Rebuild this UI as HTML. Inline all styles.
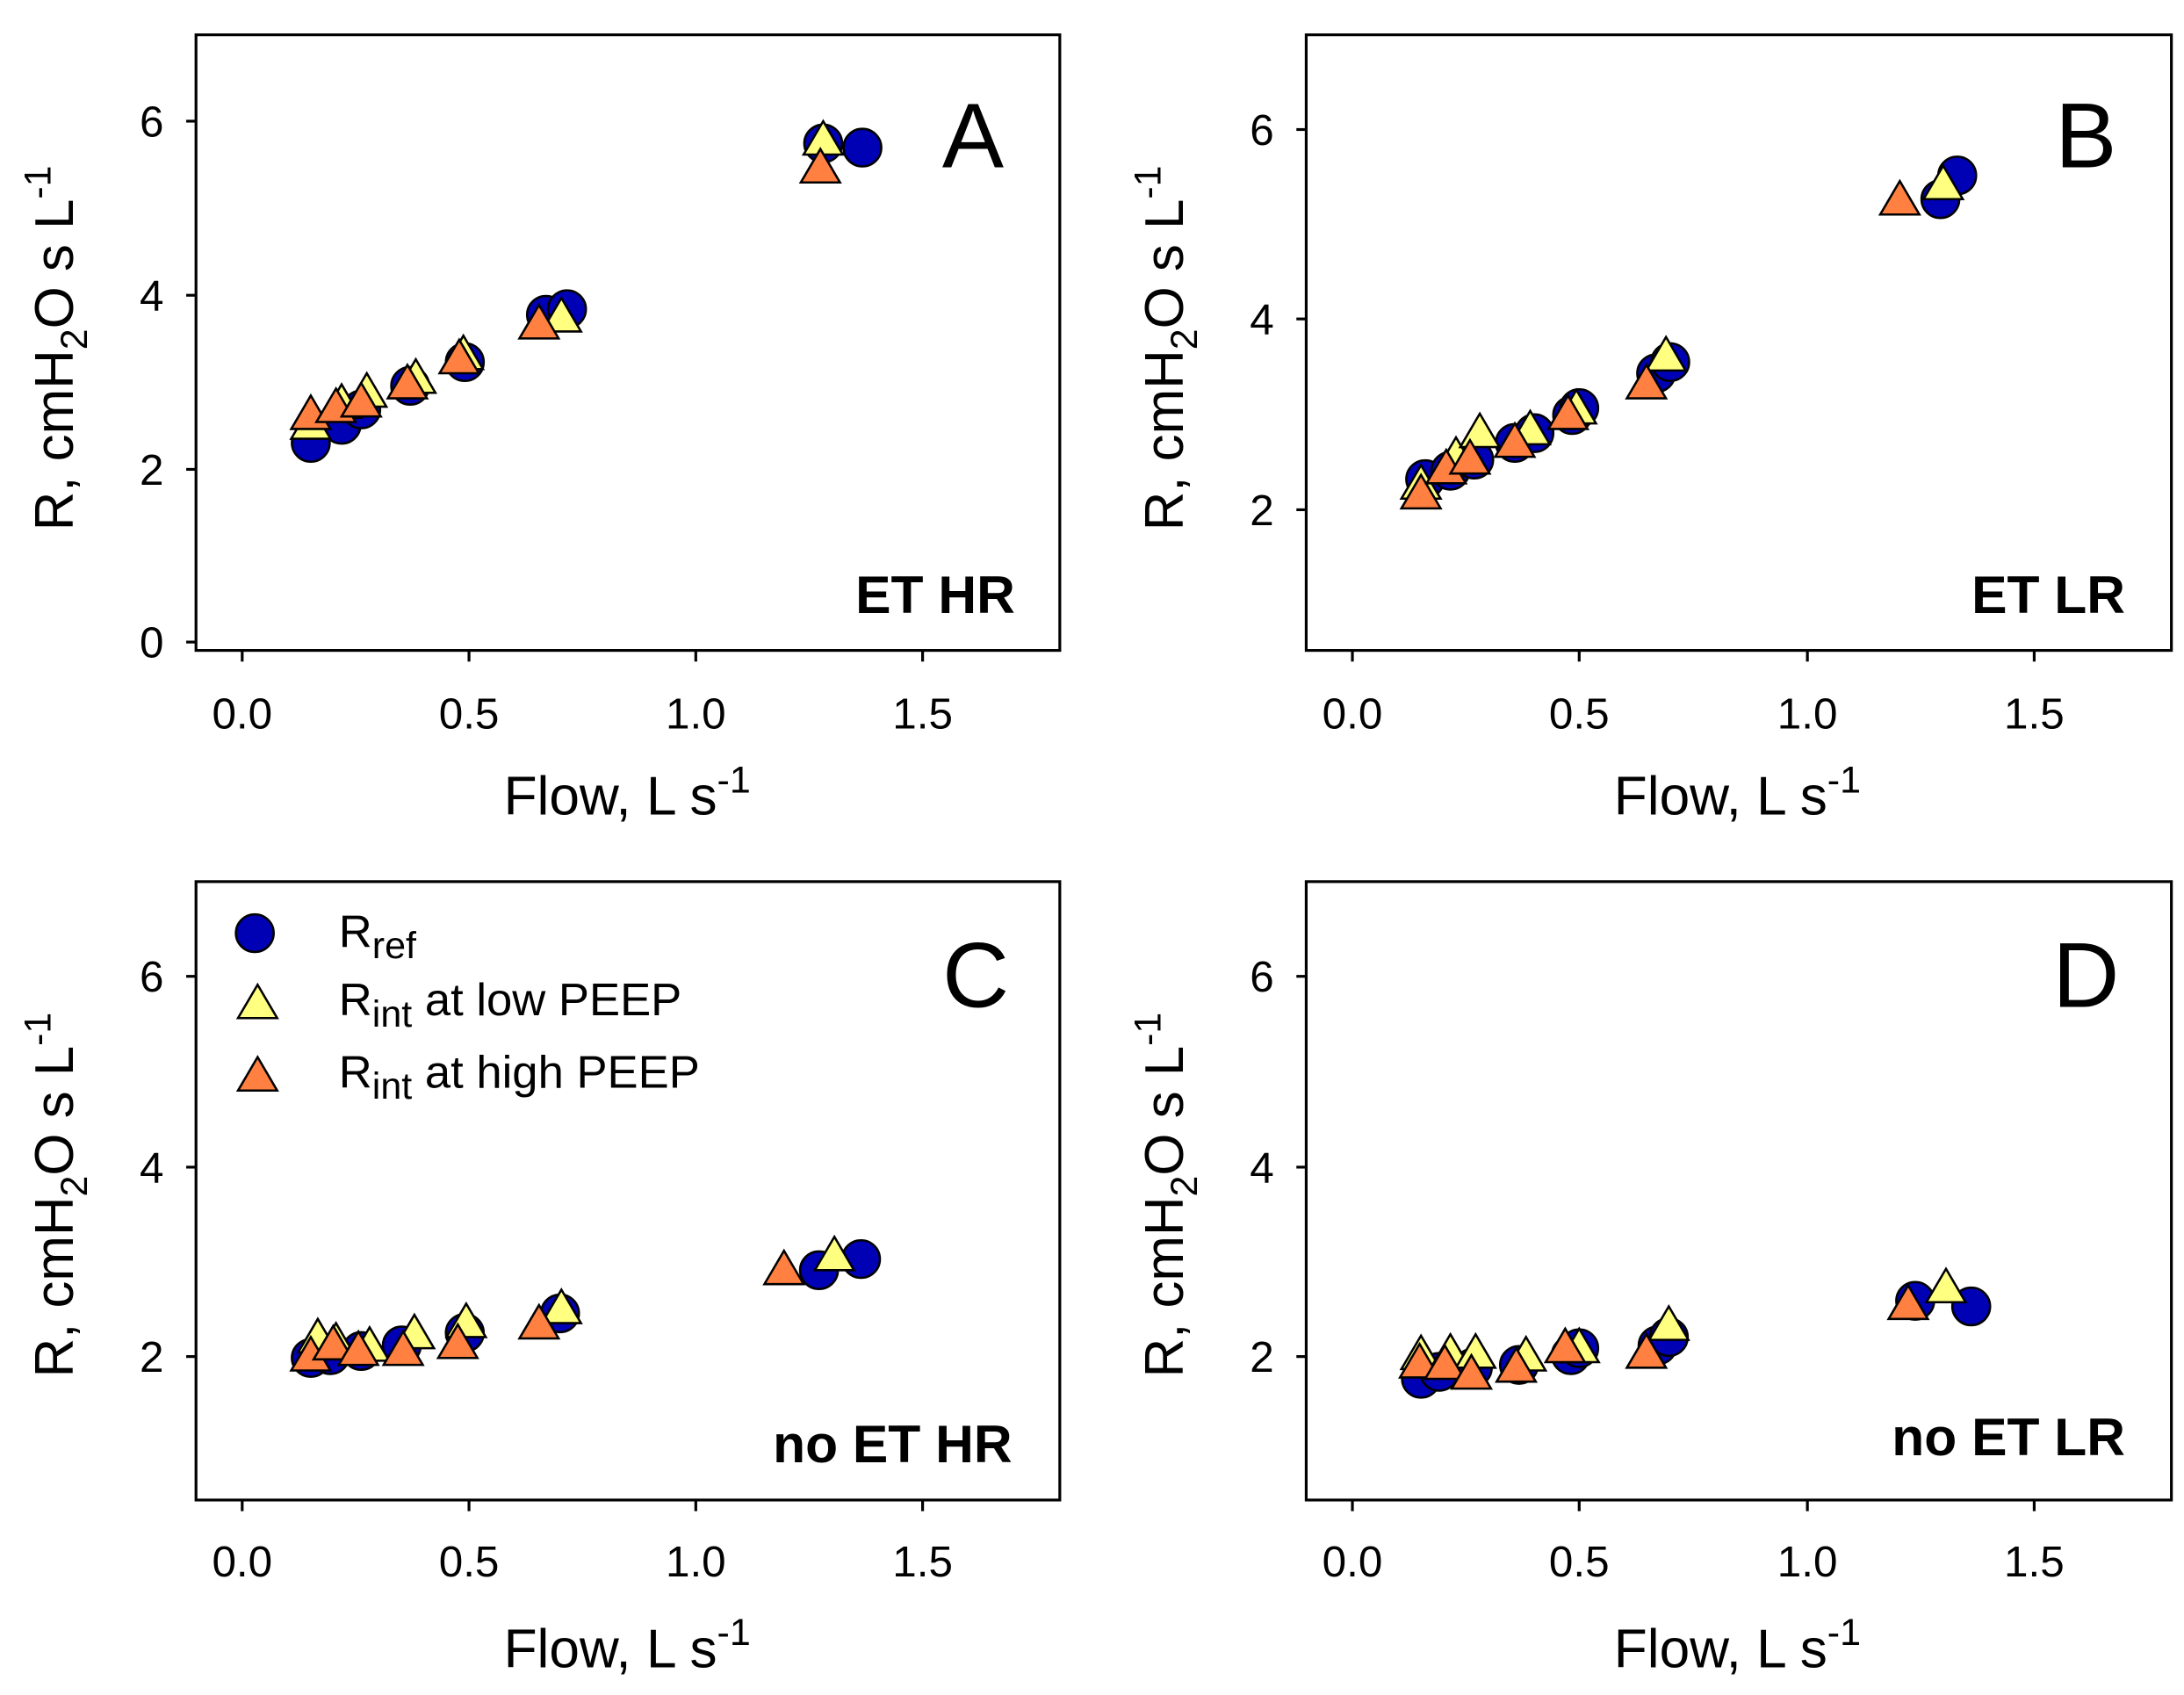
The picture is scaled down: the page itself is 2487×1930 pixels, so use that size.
<!DOCTYPE html>
<html><head><meta charset="utf-8"><style>
html,body{margin:0;padding:0;background:#fff;}
svg{display:block;}
text{font-family:"Liberation Sans",Arial,sans-serif;fill:#000;}
.t{font-size:31px;}
.ax{font-size:39px;}
.c{fill:#0000b4;stroke:#000;stroke-width:1.6;}
.y{fill:#ffff80;stroke:#000;stroke-width:1.6;}
.o{fill:#ff8040;stroke:#000;stroke-width:1.6;}
.f{fill:none;stroke:#000;stroke-width:2;}
</style></head><body>
<svg width="2487" height="1930" viewBox="0 0 1560 1217" preserveAspectRatio="none" xmlns="http://www.w3.org/2000/svg">
<defs>
<path id="tri" d="M0,-14 L-14,10 L14,10 Z"/>
</defs>

<!-- Panel A -->
<rect class="f" x="140" y="25" width="617" height="442"/>
<g stroke="#000" stroke-width="2">
<line x1="140" y1="461" x2="133" y2="461"/><line x1="140" y1="337" x2="133" y2="337"/><line x1="140" y1="212" x2="133" y2="212"/><line x1="140" y1="87" x2="133" y2="87"/>
<line x1="173" y1="467" x2="173" y2="475"/><line x1="335" y1="467" x2="335" y2="475"/><line x1="497" y1="467" x2="497" y2="475"/><line x1="659" y1="467" x2="659" y2="475"/>
</g>
<g class="t" text-anchor="end"><text x="117" y="472">0</text><text x="117" y="348">2</text><text x="117" y="223">4</text><text x="117" y="98">6</text></g>
<g class="t" text-anchor="middle"><text x="173" y="523">0.0</text><text x="335" y="523">0.5</text><text x="497" y="523">1.0</text><text x="659" y="523">1.5</text></g>
<text class="ax" x="448" y="585" text-anchor="middle">Flow, L s<tspan dy="-16" font-size="27">-1</tspan></text>
<text class="ax" transform="translate(52,250) rotate(-90)" text-anchor="middle">R, cmH<tspan dy="10" font-size="27">2</tspan><tspan dy="-10">O s L</tspan><tspan dy="-16" font-size="27">-1</tspan></text>
<text x="695" y="120" font-size="66" text-anchor="middle">A</text>
<text x="725" y="440" font-size="38" font-weight="bold" text-anchor="end">ET HR</text>
<g class="c"><circle cx="222" cy="318" r="13.5"/><circle cx="244" cy="305" r="13.5"/><circle cx="258" cy="294" r="13.5"/><circle cx="293" cy="277" r="13.5"/><circle cx="332" cy="260" r="13.5"/><circle cx="390" cy="226" r="13.5"/><circle cx="405" cy="222" r="13.5"/><circle cx="588" cy="103" r="13.5"/><circle cx="616" cy="106" r="13.5"/></g>
<g class="y"><use href="#tri" x="222" y="305"/><use href="#tri" x="244" y="290"/><use href="#tri" x="262" y="282"/><use href="#tri" x="297" y="272"/><use href="#tri" x="331" y="255"/><use href="#tri" x="401" y="228"/><use href="#tri" x="588" y="101"/></g>
<g class="o"><use href="#tri" x="222" y="298"/><use href="#tri" x="240" y="293"/><use href="#tri" x="258" y="289"/><use href="#tri" x="291" y="276"/><use href="#tri" x="328" y="258"/><use href="#tri" x="385" y="233"/><use href="#tri" x="586" y="121"/></g>

<!-- Panel B -->
<rect class="f" x="933" y="25" width="618" height="442"/>
<g stroke="#000" stroke-width="2">
<line x1="933" y1="366" x2="926" y2="366"/><line x1="933" y1="229" x2="926" y2="229"/><line x1="933" y1="93" x2="926" y2="93"/>
<line x1="966" y1="467" x2="966" y2="475"/><line x1="1128" y1="467" x2="1128" y2="475"/><line x1="1291" y1="467" x2="1291" y2="475"/><line x1="1453" y1="467" x2="1453" y2="475"/>
</g>
<g class="t" text-anchor="end"><text x="910" y="377">2</text><text x="910" y="240">4</text><text x="910" y="104">6</text></g>
<g class="t" text-anchor="middle"><text x="966" y="523">0.0</text><text x="1128" y="523">0.5</text><text x="1291" y="523">1.0</text><text x="1453" y="523">1.5</text></g>
<text class="ax" x="1241" y="585" text-anchor="middle">Flow, L s<tspan dy="-16" font-size="27">-1</tspan></text>
<text class="ax" transform="translate(845,250) rotate(-90)" text-anchor="middle">R, cmH<tspan dy="10" font-size="27">2</tspan><tspan dy="-10">O s L</tspan><tspan dy="-16" font-size="27">-1</tspan></text>
<text x="1490" y="120" font-size="66" text-anchor="middle">B</text>
<text x="1518" y="440" font-size="38" font-weight="bold" text-anchor="end">ET LR</text>
<g class="c"><circle cx="1018" cy="344" r="13.5"/><circle cx="1036" cy="338" r="13.5"/><circle cx="1053" cy="330" r="13.5"/><circle cx="1082" cy="318" r="13.5"/><circle cx="1096" cy="311" r="13.5"/><circle cx="1123" cy="298" r="13.5"/><circle cx="1128" cy="293" r="13.5"/><circle cx="1183" cy="268" r="13.5"/><circle cx="1193" cy="260" r="13.5"/><circle cx="1386" cy="143" r="13.5"/><circle cx="1398" cy="126" r="13.5"/></g>
<g class="y"><use href="#tri" x="1015" y="348"/><use href="#tri" x="1040" y="328"/><use href="#tri" x="1057" y="311"/><use href="#tri" x="1093" y="309"/><use href="#tri" x="1126" y="294"/><use href="#tri" x="1190" y="256"/><use href="#tri" x="1388" y="133"/></g>
<g class="o"><use href="#tri" x="1015" y="355"/><use href="#tri" x="1033" y="337"/><use href="#tri" x="1050" y="330"/><use href="#tri" x="1082" y="318"/><use href="#tri" x="1120" y="298"/><use href="#tri" x="1176" y="276"/><use href="#tri" x="1357" y="144"/></g>

<!-- Panel C -->
<rect class="f" x="140" y="633" width="617" height="444"/>
<g stroke="#000" stroke-width="2">
<line x1="140" y1="974" x2="133" y2="974"/><line x1="140" y1="838" x2="133" y2="838"/><line x1="140" y1="701" x2="133" y2="701"/>
<line x1="173" y1="1077" x2="173" y2="1085"/><line x1="335" y1="1077" x2="335" y2="1085"/><line x1="497" y1="1077" x2="497" y2="1085"/><line x1="659" y1="1077" x2="659" y2="1085"/>
</g>
<g class="t" text-anchor="end"><text x="117" y="985">2</text><text x="117" y="849">4</text><text x="117" y="712">6</text></g>
<g class="t" text-anchor="middle"><text x="173" y="1132">0.0</text><text x="335" y="1132">0.5</text><text x="497" y="1132">1.0</text><text x="659" y="1132">1.5</text></g>
<text class="ax" x="448" y="1197" text-anchor="middle">Flow, L s<tspan dy="-16" font-size="27">-1</tspan></text>
<text class="ax" transform="translate(52,858) rotate(-90)" text-anchor="middle">R, cmH<tspan dy="10" font-size="27">2</tspan><tspan dy="-10">O s L</tspan><tspan dy="-16" font-size="27">-1</tspan></text>
<text x="697" y="723" font-size="66" text-anchor="middle">C</text>
<text x="723" y="1050" font-size="38" font-weight="bold" text-anchor="end">no ET HR</text>
<circle class="c" cx="182" cy="670" r="13.5"/>
<use class="y" href="#tri" x="184" y="721"/>
<use class="o" href="#tri" x="184" y="773"/>
<text x="242" y="680" font-size="33">R<tspan dy="8" font-size="27">ref</tspan></text>
<text x="242" y="729" font-size="33">R<tspan dy="8" font-size="27">int</tspan><tspan dy="-8"> at low PEEP</tspan></text>
<text x="242" y="781" font-size="33">R<tspan dy="8" font-size="27">int</tspan><tspan dy="-8"> at high PEEP</tspan></text>
<g class="c"><circle cx="222" cy="975" r="13.5"/><circle cx="236" cy="973" r="13.5"/><circle cx="258" cy="970" r="13.5"/><circle cx="287" cy="966" r="13.5"/><circle cx="332" cy="957" r="13.5"/><circle cx="400" cy="943" r="13.5"/><circle cx="585" cy="912" r="13.5"/><circle cx="615" cy="904" r="13.5"/></g>
<g class="y"><use href="#tri" x="227" y="961"/><use href="#tri" x="240" y="964"/><use href="#tri" x="264" y="967"/><use href="#tri" x="296" y="958"/><use href="#tri" x="333" y="950"/><use href="#tri" x="401" y="940"/><use href="#tri" x="596" y="902"/></g>
<g class="o"><use href="#tri" x="222" y="974"/><use href="#tri" x="238" y="966"/><use href="#tri" x="256" y="970"/><use href="#tri" x="288" y="970"/><use href="#tri" x="327" y="965"/><use href="#tri" x="385" y="951"/><use href="#tri" x="560" y="912"/></g>

<!-- Panel D -->
<rect class="f" x="933" y="633" width="618" height="444"/>
<g stroke="#000" stroke-width="2">
<line x1="933" y1="974" x2="926" y2="974"/><line x1="933" y1="838" x2="926" y2="838"/><line x1="933" y1="701" x2="926" y2="701"/>
<line x1="966" y1="1077" x2="966" y2="1085"/><line x1="1128" y1="1077" x2="1128" y2="1085"/><line x1="1291" y1="1077" x2="1291" y2="1085"/><line x1="1453" y1="1077" x2="1453" y2="1085"/>
</g>
<g class="t" text-anchor="end"><text x="910" y="985">2</text><text x="910" y="849">4</text><text x="910" y="712">6</text></g>
<g class="t" text-anchor="middle"><text x="966" y="1132">0.0</text><text x="1128" y="1132">0.5</text><text x="1291" y="1132">1.0</text><text x="1453" y="1132">1.5</text></g>
<text class="ax" x="1241" y="1197" text-anchor="middle">Flow, L s<tspan dy="-16" font-size="27">-1</tspan></text>
<text class="ax" transform="translate(845,858) rotate(-90)" text-anchor="middle">R, cmH<tspan dy="10" font-size="27">2</tspan><tspan dy="-10">O s L</tspan><tspan dy="-16" font-size="27">-1</tspan></text>
<text x="1490" y="723" font-size="66" text-anchor="middle">D</text>
<text x="1518" y="1045" font-size="38" font-weight="bold" text-anchor="end">no ET LR</text>
<g class="c"><circle cx="1015" cy="990" r="13.5"/><circle cx="1028" cy="985" r="13.5"/><circle cx="1052" cy="982" r="13.5"/><circle cx="1085" cy="980" r="13.5"/><circle cx="1122" cy="973" r="13.5"/><circle cx="1128" cy="968" r="13.5"/><circle cx="1184" cy="966" r="13.5"/><circle cx="1192" cy="960" r="13.5"/><circle cx="1368" cy="934" r="13.5"/><circle cx="1408" cy="938" r="13.5"/></g>
<g class="y"><use href="#tri" x="1015" y="973"/><use href="#tri" x="1036" y="972"/><use href="#tri" x="1054" y="972"/><use href="#tri" x="1090" y="974"/><use href="#tri" x="1128" y="968"/><use href="#tri" x="1192" y="952"/><use href="#tri" x="1390" y="925"/></g>
<g class="o"><use href="#tri" x="1014" y="979"/><use href="#tri" x="1032" y="980"/><use href="#tri" x="1051" y="987"/><use href="#tri" x="1083" y="982"/><use href="#tri" x="1118" y="968"/><use href="#tri" x="1176" y="972"/><use href="#tri" x="1363" y="937"/></g>
</svg>
</body></html>
